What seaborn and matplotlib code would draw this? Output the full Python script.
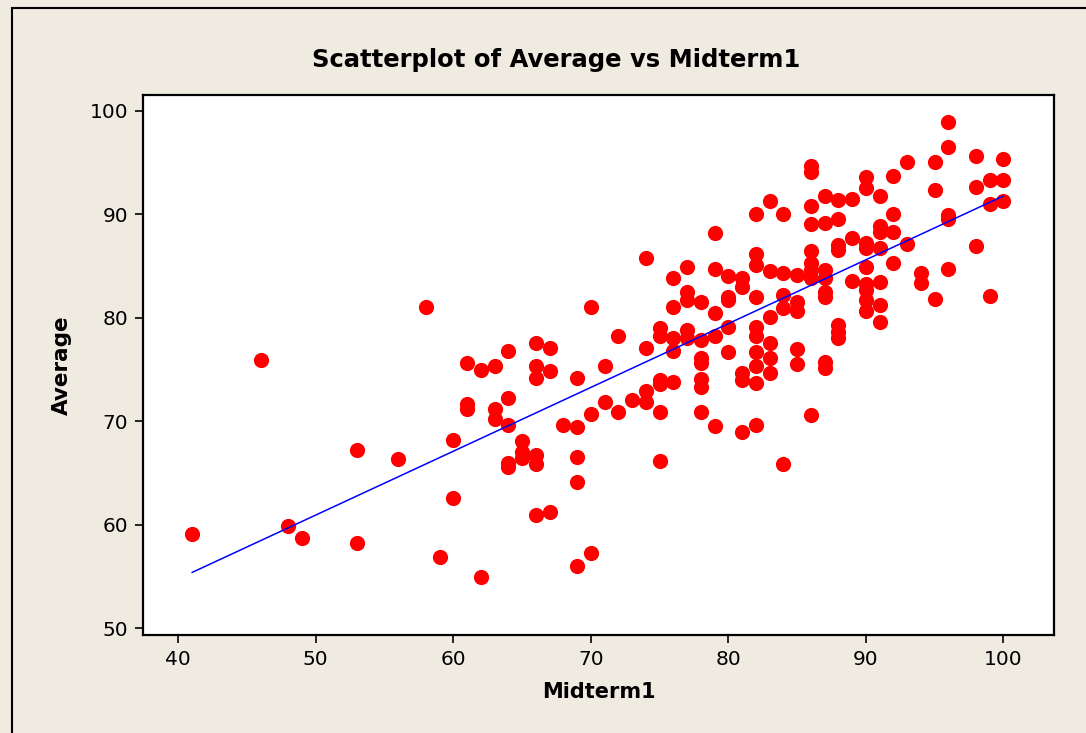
import matplotlib
matplotlib.use("Agg")
import matplotlib.pyplot as plt
import matplotlib.patches as patches
import pandas as pd
import seaborn as sns

# Values, grouped by Midterm1 score
midterm1 = [
    41, 46, 48, 49, 53, 53, 56, 58, 59, 60, 60,
    61, 61, 61, 62, 62, 63, 63, 63,
    64, 64, 64, 64, 64, 65, 65, 65,
    66, 66, 66, 66, 66, 66, 67, 67, 67, 68,
    69, 69, 69, 69, 69, 70, 70, 70, 71, 71, 72, 72, 73,
    74, 74, 74, 74, 75, 75, 75, 75, 75, 75,
    76, 76, 76, 76, 76, 77, 77, 77, 77, 77,
    78, 78, 78, 78, 78, 78, 78, 79, 79, 79, 79, 79,
    80, 80, 80, 80, 80, 81, 81, 81, 81, 81,
    82, 82, 82, 82, 82, 82, 82, 82, 82, 82,
    83, 83, 83, 83, 83, 83, 84, 84, 84, 84, 84,
    85, 85, 85, 85, 85, 86, 86, 86, 86, 86, 86, 86, 86, 86,
    87, 87, 87, 87, 87, 87, 87, 87, 88, 88, 88, 88, 88, 88, 88,
    89, 89, 89, 90, 90, 90, 90, 90, 90, 90, 90, 90,
    91, 91, 91, 91, 91, 91, 91, 92, 92, 92, 92, 93, 93, 94, 94,
    95, 95, 95, 96, 96, 96, 96, 96, 98, 98, 98, 99, 99, 99,
    100, 100, 100,
]
average = [
    59.1, 75.9, 59.9, 58.7, 67.2, 58.2, 66.3, 81.0, 56.9, 68.2, 62.6,
    75.6, 71.7, 71.2, 74.9, 54.9, 75.3, 71.2, 70.2,
    76.8, 72.2, 69.6, 66.0, 65.6, 68.1, 67.0, 66.4,
    77.5, 75.3, 74.2, 66.7, 65.9, 60.9, 77.1, 74.8, 61.2, 69.6,
    74.2, 69.4, 66.5, 64.1, 56.0, 81.0, 70.7, 57.3, 75.3, 71.8, 78.2, 70.9, 72.0,
    85.8, 77.1, 72.9, 71.8, 79.0, 78.2, 74.0, 73.6, 70.9, 66.1,
    83.8, 81.0, 78.0, 76.8, 73.8, 84.9, 82.5, 81.7, 78.8, 78.0,
    81.5, 77.8, 76.1, 75.6, 74.1, 73.3, 70.9, 88.2, 84.7, 80.4, 78.2, 69.5,
    84.0, 82.0, 81.7, 79.1, 76.7, 83.8, 83.0, 74.6, 74.0, 68.9,
    90.0, 86.1, 85.1, 82.0, 79.1, 78.2, 76.7, 75.3, 73.7, 69.6,
    91.3, 84.5, 80.1, 77.5, 76.1, 74.6, 90.0, 84.3, 82.2, 80.9, 65.9,
    84.1, 81.5, 80.6, 77.0, 75.5, 94.6, 94.1, 90.8, 89.0, 86.4, 85.3, 84.6, 83.8, 70.6,
    91.7, 89.1, 84.6, 83.8, 82.5, 82.0, 75.7, 75.1, 91.4, 89.5, 87.0, 86.5, 79.3, 78.6, 78.0,
    91.5, 87.7, 83.5, 93.6, 92.5, 87.2, 86.7, 84.9, 83.2, 82.7, 81.7, 80.6,
    91.7, 88.8, 88.3, 86.7, 83.4, 81.2, 79.6, 93.7, 90.0, 88.3, 85.3, 95.0, 87.1, 84.3, 83.3,
    95.0, 92.3, 81.8, 98.9, 96.5, 89.9, 89.5, 84.7, 95.6, 92.6, 86.9, 93.3, 91.0, 82.1,
    95.3, 93.3, 91.3,
]
x_ticks = [40, 50, 60, 70, 80, 90, 100]
y_ticks = [50, 60, 70, 80, 90, 100]

df = pd.DataFrame({"Midterm1": midterm1, "Average": average})

sns.set_style("ticks")
plt.rcParams["font.family"] = ["DejaVu Sans"]
plt.rcParams["text.color"] = "black"
plt.rcParams["axes.labelcolor"] = "black"

bg = "#efebe1"
fig = plt.figure(figsize=(10.86, 7.33), dpi=100, facecolor=bg)
ax = fig.add_axes([0.1321, 0.1337, 0.838, 0.7367])
ax.set_facecolor("white")

sns.regplot(data=df, x="Midterm1", y="Average", ci=None, ax=ax,
            scatter_kws={"s": 120, "color": "#ff0000", "alpha": 1, "linewidths": 0},
            line_kws={"color": "#0000ff", "linewidth": 1.1})

ax.set_xlim(37.47, 103.65)
ax.set_ylim(49.34, 101.5)
ax.set_xticks(x_ticks)
ax.set_yticks(y_ticks)
ax.tick_params(axis="both", direction="out", length=6, width=1.2,
               labelsize=14.5, colors="black", pad=5)
for s in ax.spines.values():
    s.set_visible(True)
    s.set_linewidth(1.6)
    s.set_color("black")

ax.set_xlabel("Midterm1", fontsize=15, fontweight="bold", labelpad=9)
ax.set_ylabel("Average", fontsize=15.5, fontweight="bold", labelpad=13)
fig.text(556 / 1086, 1 - 60 / 733, "Scatterplot of Average vs Midterm1",
         ha="center", va="center", fontsize=17.5, fontweight="bold", color="black")

# outer frame like the Minitab graph window
fig.patches.append(patches.Rectangle((12 / 1086, -0.5), 2, 0.5 + 1 - 7.5 / 733,
                                     transform=fig.transFigure, fill=False,
                                     edgecolor="black", linewidth=1.5))

fig.savefig("out.png", dpi=100, facecolor=bg)
plt.close(fig)
